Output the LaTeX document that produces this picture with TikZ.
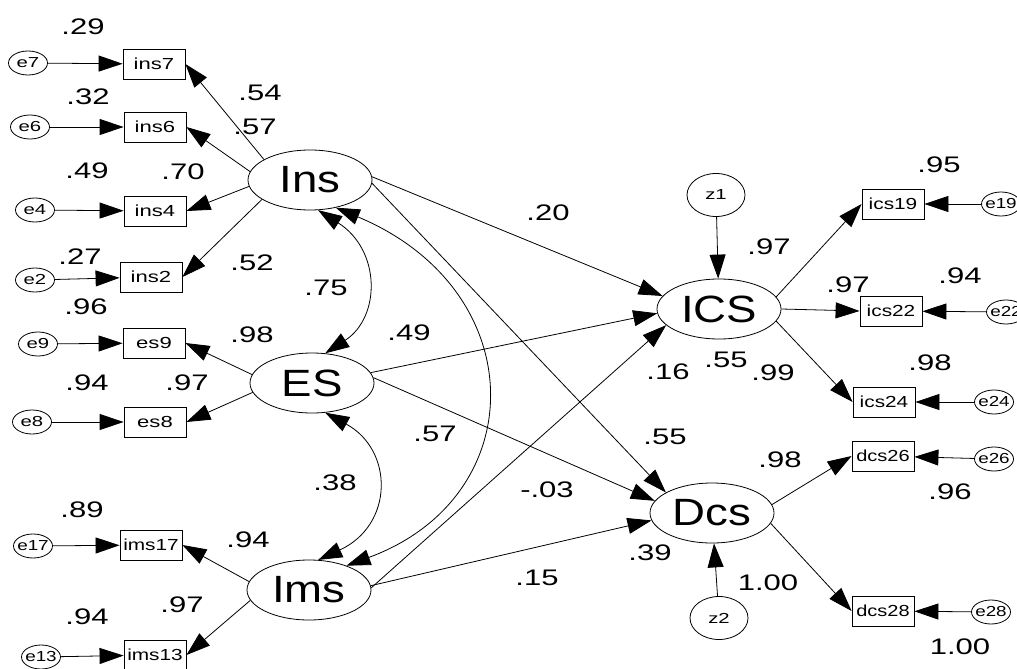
\documentclass[tikz,border=0pt]{standalone}
\usepackage{fontspec}
\usepackage{graphicx}
\setmainfont{Liberation Sans}
\usetikzlibrary{arrows.meta,shapes.geometric}
\newcommand\sx[2][1.38]{\makebox[0pt]{\scalebox{#1}[1]{#2}}}
\begin{document}
\begin{tikzpicture}[x=1pt,y=-1pt,
  lat/.style={ellipse, draw, line width=0.8pt, minimum width=124pt, minimum height=60pt, inner sep=0pt, font=\fontsize{38}{38}\selectfont},
  err/.style={ellipse, draw, line width=0.8pt, minimum width=39pt, minimum height=24pt, inner sep=0pt, font=\fontsize{14.5}{14.5}\selectfont},
  dist/.style={ellipse, draw, line width=0.8pt, minimum width=58pt, minimum height=43pt, inner sep=0pt, font=\fontsize{14.5}{14.5}\selectfont},
  obs/.style={rectangle, draw, line width=0.8pt, minimum width=62pt, minimum height=30pt, inner sep=0pt, font=\fontsize{16}{16}\selectfont},
  coef/.style={inner sep=0pt, font=\fontsize{22.5}{22.5}\selectfont},
  reg/.style={line width=0.8pt, -{Triangle[length=24pt,width=16pt]}},
  corr/.style={line width=0.8pt, {Triangle[length=24pt,width=16pt]}-{Triangle[length=24pt,width=16pt]}}
]
\useasboundingbox (0,0) rectangle (1017,669);

% latent variables
\node[lat] (Ins) at (310,180) {\sx[1.2]{Ins}};
\node[lat] (ES)  at (312,383) {\sx[1.2]{ES}};
\node[lat] (Ims) at (309,590) {\sx[1.2]{Ims}};
\node[lat] (ICS) at (719,309) {\sx[1.2]{ICS}};
\node[lat] (Dcs) at (712,513) {\sx[1.2]{Dcs}};

% disturbances
\node[dist] (z1) at (716,195) {\sx[1.4]{z1}};
\node[dist] (z2) at (719,618) {\sx[1.4]{z2}};

% left indicators
\node[obs] (ins7)  at (154,64)  {\sx{ins7}};
\node[obs] (ins6)  at (155,127) {\sx{ins6}};
\node[obs] (ins4)  at (155,211) {\sx{ins4}};
\node[obs] (ins2)  at (151,277) {\sx{ins2}};
\node[obs] (es9)   at (154,343) {\sx{es9}};
\node[obs] (es8)   at (155,422) {\sx{es8}};
\node[obs] (ims17) at (151,545) {\sx[1.3]{ims17}};
\node[obs] (ims13) at (155,655) {\sx[1.3]{ims13}};

% right indicators
\node[obs] (ics19) at (893,204) {\sx[1.3]{ics19}};
\node[obs] (ics22) at (891,311) {\sx[1.3]{ics22}};
\node[obs] (ics24) at (884,402) {\sx[1.3]{ics24}};
\node[obs] (dcs26) at (883,456) {\sx[1.25]{dcs26}};
\node[obs] (dcs28) at (883,611) {\sx[1.25]{dcs28}};

% errors
\node[err] (e7)  at (28,63)   {\sx[1.4]{e7}};
\node[err] (e6)  at (30,127)  {\sx[1.4]{e6}};
\node[err] (e4)  at (35,210)  {\sx[1.4]{e4}};
\node[err] (e2)  at (35,280)  {\sx[1.4]{e2}};
\node[err] (e9)  at (38,344)  {\sx[1.4]{e9}};
\node[err] (e8)  at (32,422)  {\sx[1.4]{e8}};
\node[err] (e17) at (33,546)  {\sx[1.3]{e17}};
\node[err] (e13) at (41,657)  {\sx[1.3]{e13}};
\node[err] (e19) at (1001,204) {\sx[1.3]{e19}};
\node[err] (e22) at (1006,312) {\sx[1.3]{e22}};
\node[err] (e24) at (994,402)  {\sx[1.3]{e24}};
\node[err] (e26) at (994,459)  {\sx[1.3]{e26}};
\node[err] (e28) at (991,612)  {\sx[1.3]{e28}};

% error arrows
\foreach \e/\o in {e7/ins7,e6/ins6,e4/ins4,e2/ins2,e9/es9,e8/es8,e17/ims17,e13/ims13,e19/ics19,e22/ics22,e24/ics24,e26/dcs26,e28/dcs28}
  \draw[reg] (\e) -- (\o);

% loadings left
\draw[reg] (Ins.156) -- (ins7.east);
\draw[reg] (Ins.172) -- (ins6.east);
\draw[reg] (Ins.186) -- (ins4.east);
\draw[reg] (Ins.202) -- (ins2.east);
\draw[reg] (ES.172) -- (es9.east);
\draw[reg] (ES.189) -- (es8.east);
\draw[reg] (Ims.172) -- (ims17.east);
\draw[reg] (Ims.190) -- (ims13.east);

% loadings right
\draw[reg] (ICS.12) -- (ics19.west);
\draw[reg] (ICS.0) -- (ics22.west);
\draw[reg] (ICS.-12) -- (ics24.west);
\draw[reg] (Dcs.8) -- (dcs26.west);
\draw[reg] (Dcs.-10) -- (dcs28.west);

% disturbances
\draw[reg] (z1) -- (ICS);
\draw[reg] (z2) -- (Dcs);

% structural paths
\draw[reg] (Ins.3) -- (ICS.167);
\draw[reg] (Ins.-3) -- (Dcs.156);
\draw[reg] (ES.10) -- (ICS.184);
\draw[reg] (ES.5) -- (Dcs.168);
\draw[reg] (Ims.2) -- (ICS.197);
\draw[reg] (Ims.4) -- (Dcs.187);

% correlations
\draw[corr] (Ins.-75) .. controls (381,250) and (381,317) .. (ES.66);
\draw[corr] (ES.-66) .. controls (394,450) and (394,525) .. (Ims.73);
\draw[corr] (Ins.-47) .. controls (533,290) and (533,497) .. (Ims.33);

% coefficients left
\node[coef] (c1)  at (83,27)   {\sx{.29}};
\node[coef] (c2)  at (88,97)   {\sx{.32}};
\node[coef] (c3)  at (260,93)  {\sx{.54}};
\node[coef] (c4)  at (255,127) {\sx{.57}};
\node[coef] (c5)  at (87,171)  {\sx{.49}};
\node[coef] (c6)  at (183,172) {\sx{.70}};
\node[coef] (c7)  at (80,257)  {\sx{.27}};
\node[coef] (c8)  at (252,263) {\sx{.52}};
\node[coef] (c9)  at (86,307)  {\sx{.96}};
\node[coef] (c10) at (252,335) {\sx{.98}};
\node[coef] (c11) at (87,383)  {\sx{.94}};
\node[coef] (c12) at (187,383) {\sx{.97}};
\node[coef] (c13) at (82,510)  {\sx{.89}};
\node[coef] (c14) at (248,540) {\sx{.94}};
\node[coef] (c15) at (182,605) {\sx{.97}};
\node[coef] (c16) at (87,617)  {\sx{.94}};
% center
\node[coef] (c17) at (548,213) {\sx{.20}};
\node[coef] (c18) at (326,288) {\sx{.75}};
\node[coef] (c19) at (409,333) {\sx{.49}};
\node[coef] (c20) at (435,434) {\sx{.57}};
\node[coef] (c21) at (335,483) {\sx{.38}};
\node[coef] (c22) at (547,490) {\sx{-.03}};
\node[coef] (c23) at (537,578) {\sx{.15}};
% right
\node[coef] (c24) at (939,165) {\sx{.95}};
\node[coef] (c25) at (769,247) {\sx{.97}};
\node[coef] (c26) at (848,285) {\sx{.97}};
\node[coef] (c27) at (960,276) {\sx{.94}};
\node[coef] (c28) at (668,372) {\sx{.16}};
\node[coef] (c29) at (726,360) {\sx{.55}};
\node[coef] (c30) at (773,373) {\sx{.99}};
\node[coef] (c31) at (930,363) {\sx{.98}};
\node[coef] (c32) at (665,437) {\sx{.55}};
\node[coef] (c33) at (780,460) {\sx{.98}};
\node[coef] (c34) at (950,492) {\sx{.96}};
\node[coef] (c35) at (650,553) {\sx{.39}};
\node[coef] (c36) at (768,583) {\sx{1.00}};
\node[coef] (c37) at (960,647) {\sx{1.00}};
\end{tikzpicture}
\end{document}
